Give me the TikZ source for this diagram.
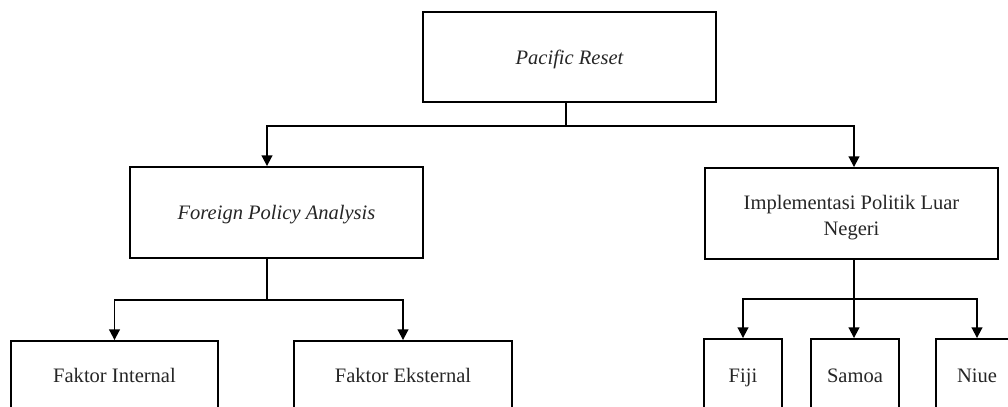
\documentclass[tikz,border=0pt]{standalone}
\usepackage{fontspec}
\setmainfont{Liberation Serif}
\usetikzlibrary{arrows.meta,calc}
\newdimen\pxu \pxu=0.75pt
\begin{document}
\begin{tikzpicture}[x=0.75pt,y=-0.75pt,
  box/.style={draw=black,line width=1.4pt,inner sep=0pt,align=center,
    font=\fontsize{15.4}{19.5}\selectfont,text=black!85},
  onel/.style={text height=1.28em,text depth=0.22em},
  conn/.style={draw=black,line width=1.4pt},
  arr/.style={conn,-{Triangle[length=8pt,width=8pt]}}]
\useasboundingbox (0,0) rectangle (1008,407);
\clip (0,0) rectangle (1008,407);
\fill[white] (0,0) rectangle (1008,407);
\node[box,onel,minimum width=293\pxu,minimum height=90\pxu] (top) at (569.5,57) {\itshape Pacific Reset};
\node[box,onel,minimum width=293\pxu,minimum height=91\pxu] (fpa) at (276.5,212.5) {\itshape Foreign Policy Analysis};
\node[box,minimum width=293\pxu,minimum height=91\pxu] (ipl) at (851.5,213.5) {\rule{0pt}{1.1em}Implementasi Politik Luar\\Negeri};
\node[box,onel,minimum width=207\pxu,minimum height=68\pxu] (fi) at (114.5,375) {Faktor Internal};
\node[box,onel,minimum width=218\pxu,minimum height=68\pxu] (fe) at (403,375) {Faktor Eksternal};
\node[box,onel,minimum width=78\pxu,minimum height=72\pxu] (fiji) at (743,375) {Fiji};
\node[box,onel,minimum width=88\pxu,minimum height=72\pxu] (samoa) at (855,375) {Samoa};
\node[box,onel,minimum width=82\pxu,minimum height=72\pxu] (niue) at (977,375) {Niue};
\coordinate (b1) at (566,126);
\coordinate (b2) at (267,300);
\coordinate (b3) at (854,299);
\draw[conn] (b1 |- top.south) -- (b1);
\draw[arr] (b1) -| ($(fpa.north)+(-9.5,0)$);
\draw[arr] (b1) -| ($(ipl.north)+(2.5,0)$);
\draw[conn] (b2 |- fpa.south) -- (b2);
\draw[arr] (b2) -| (fi.north);
\draw[arr] (b2) -| (fe.north);
\draw[conn] (b3 |- ipl.south) -- (b3);
\draw[arr] (b3) -| (fiji.north);
\draw[arr] (b3) -- (b3 |- samoa.north);
\draw[arr] (b3) -| (niue.north);
\end{tikzpicture}
\end{document}
